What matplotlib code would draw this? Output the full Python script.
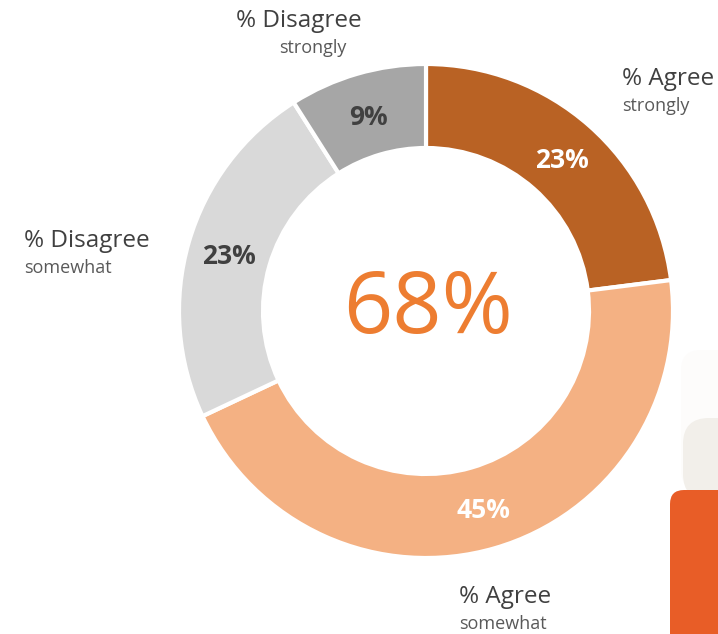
import matplotlib.pyplot as plt
from matplotlib.patches import FancyBboxPatch

# Data
labels = ['% Agree', '% Agree', '% Disagree', '% Disagree']
sublabels = ['strongly', 'somewhat', 'somewhat', 'strongly']
values = [23, 45, 23, 9]
colors = ['#B96224', '#F4B183', '#D9D9D9', '#A6A6A6']
pct_colors = ['white', 'white', '#404040', '#404040']
center_text = '68%'

W, H = 718, 634
fig = plt.figure(figsize=(W / 100, H / 100), dpi=100)
ax = fig.add_axes([0, 0, 1, 1])
ax.set_xlim(0, W)
ax.set_ylim(0, H)
ax.axis('off')

def py(y):
    # pixel row (from top) -> data y
    return H - y

# decorative shapes at the bottom right
ax.add_patch(FancyBboxPatch((681, py(490)), 80, 140, boxstyle='round,pad=0,rounding_size=20',
                            fc='#FDFCFB', ec='none', zorder=0))
ax.add_patch(FancyBboxPatch((683, py(500)), 80, 82, boxstyle='round,pad=0,rounding_size=26',
                            fc='#F2EFEA', ec='none', zorder=1))
ax.add_patch(FancyBboxPatch((670, py(660)), 90, 170, boxstyle='round,pad=0,rounding_size=14',
                            fc='#E85D27', ec='none', zorder=2))

cx, cy, R = 426, py(311), 247
wedges, _, autotexts = ax.pie(values, colors=colors, startangle=90, counterclock=False,
                              center=(cx, cy), radius=R,
                              autopct=lambda p: f'{p:.0f}%', pctdistance=0.83,
                              wedgeprops=dict(width=84, edgecolor='white', linewidth=3))
for t, c in zip(autotexts, pct_colors):
    t.set_color(c)
    t.set_fontsize(19)
    t.set_fontweight('bold')
    t.set_fontfamily('Open Sans')
    x, y = t.get_position()
    t.set_position((x, y - 3))
ax.set_xlim(0, W)
ax.set_ylim(0, H)

ax.text(cx + 2, cy, center_text, ha='center', va='center', fontsize=62,
        color='#ED7D31', family='Open Sans')

lab_font = dict(family='Open Sans', color='#404040', fontsize=17.5)
sub_font = dict(family='Open Sans', color='#595959', fontsize=13)

ax.text(622, py(79), labels[0], ha='left', va='center', **lab_font)
ax.text(622, py(106), sublabels[0], ha='left', va='center', **sub_font)
ax.text(459, py(597), labels[1], ha='left', va='center', **lab_font)
ax.text(459, py(624), sublabels[1], ha='left', va='center', **sub_font)
ax.text(24, py(241), labels[2], ha='left', va='center', **lab_font)
ax.text(24, py(268), sublabels[2], ha='left', va='center', **sub_font)
ax.text(362, py(21), labels[3], ha='right', va='center', **lab_font)
ax.text(347, py(48), sublabels[3], ha='right', va='center', **sub_font)

fig.savefig('out.png', dpi=100)
